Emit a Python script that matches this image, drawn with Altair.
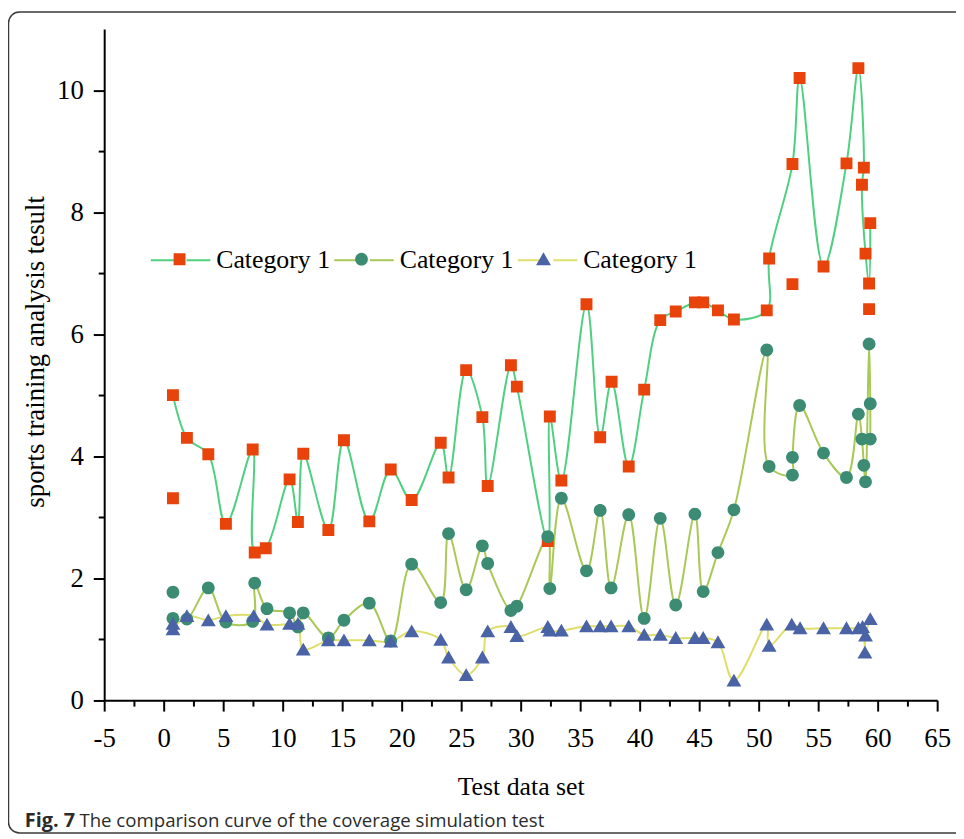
import altair as alt
import pandas as pd

# ---------------- data ----------------
# Series 1 (red squares, light-green spline)
s1_x = [0.78, 0.78, 1.95, 3.75, 5.23, 7.48, 7.65, 8.58, 10.58, 11.28,
        11.73, 13.84, 15.15, 17.28, 19.08, 20.84, 23.28, 23.94, 25.42, 26.78,
        27.23, 29.18, 29.68, 32.28, 32.45, 33.42, 35.53, 36.68, 37.64, 39.08,
        40.38, 41.73, 43.03, 44.64, 45.34, 46.58, 47.92, 50.68, 50.88, 52.84,
        52.84, 53.44, 55.45, 57.38, 58.38, 58.84, 58.68, 58.98, 59.28, 59.38,
        59.28]
s1_y = [5.00, 3.31, 4.30, 4.03, 2.89, 4.11, 2.42, 2.49, 3.62, 2.92,
        4.04, 2.79, 4.26, 2.93, 3.78, 3.28, 4.22, 3.65, 5.41, 4.64,
        3.51, 5.49, 5.14, 2.61, 4.65, 3.60, 6.49, 4.31, 5.22, 3.83,
        5.09, 6.23, 6.37, 6.52, 6.52, 6.39, 6.24, 6.39, 7.24, 6.82,
        8.79, 10.20, 7.11, 8.80, 10.36, 8.73, 8.45, 7.32, 6.83, 7.82,
        6.41]
s1_off = [1, 39, 50]   # points not joined by the spline

# Series 2 (green circles, yellow-green spline)
s2_x = [0.78, 0.78, 1.95, 3.75, 5.23, 7.48, 7.65, 8.68, 10.58, 11.28,
        11.73, 13.84, 15.15, 17.28, 19.08, 20.84, 23.28, 23.94, 25.42, 26.78,
        27.23, 29.18, 29.68, 32.28, 32.45, 33.42, 35.53, 36.68, 37.60, 39.08,
        40.38, 41.73, 43.03, 44.64, 45.34, 46.58, 47.92, 50.68, 50.88, 52.84,
        52.84, 53.44, 55.45, 57.38, 58.38, 58.68, 58.84, 58.98, 59.28, 59.38,
        59.38]
s2_y = [1.77, 1.34, 1.33, 1.84, 1.28, 1.29, 1.92, 1.50, 1.43, 1.20,
        1.43, 1.02, 1.31, 1.59, 0.97, 2.23, 1.60, 2.73, 1.81, 2.53,
        2.24, 1.47, 1.54, 2.68, 1.83, 3.31, 2.12, 3.11, 1.84, 3.04,
        1.34, 2.98, 1.56, 3.05, 1.78, 2.42, 3.12, 5.74, 3.83, 3.69,
        3.98, 4.83, 4.05, 3.65, 4.69, 4.28, 3.85, 3.58, 5.84, 4.86,
        4.28]
s2_off = [0]

# Series 3 (blue triangles, yellow spline)
s3_x = [0.78, 0.78, 1.95, 3.75, 5.23, 7.56, 8.68, 10.58, 11.28, 11.73,
        13.84, 15.15, 17.28, 19.08, 20.84, 23.28, 23.94, 25.42, 26.78, 27.23,
        29.18, 29.68, 32.28, 32.45, 33.42, 35.53, 36.68, 37.60, 39.08, 40.38,
        41.73, 43.03, 44.64, 45.34, 46.58, 47.92, 50.68, 50.88, 52.78, 53.48,
        55.45, 57.38, 58.38, 58.73, 58.93, 58.98, 59.38]
s3_y = [1.25, 1.16, 1.38, 1.31, 1.38, 1.38, 1.24, 1.25, 1.25, 0.83,
        0.98, 0.98, 0.98, 0.96, 1.13, 0.99, 0.70, 0.41, 0.70, 1.13,
        1.20, 1.05, 1.20, 1.14, 1.14, 1.21, 1.21, 1.21, 1.21, 1.07,
        1.07, 1.02, 1.02, 1.02, 0.95, 0.32, 1.24, 0.89, 1.24, 1.18,
        1.18, 1.18, 1.18, 1.20, 0.78, 1.06, 1.33]
s3_off = [0]

series_names = ["S1", "S2", "S3"]
line_names = ["L1", "L2", "L3"]
legend_label = "Category 1"

x_ticks = [-5, -2.5, 0, 2.5, 5, 7.5, 10, 12.5, 15, 17.5, 20, 22.5, 25, 27.5,
           30, 32.5, 35, 37.5, 40, 42.5, 45, 47.5, 50, 52.5, 55, 57.5, 60,
           62.5, 65]
y_ticks = [0, 1, 2, 3, 4, 5, 6, 7, 8, 9, 10]

caption_bold = "Fig. 7"
caption_rest = "The comparison curve of the coverage simulation test"

# ---------------- tables ----------------
pt_rows, ln_rows = [], []
for s, l, xs, ys, off in [("S1", "L1", s1_x, s1_y, s1_off),
                          ("S2", "L2", s2_x, s2_y, s2_off),
                          ("S3", "L3", s3_x, s3_y, s3_off)]:
    for i, (xv, yv) in enumerate(zip(xs, ys)):
        pt_rows.append({"x": xv, "y": yv, "series": s})
        if i not in off:
            ln_rows.append({"x": xv, "y": yv, "line": l, "idx": i})
pts = pd.DataFrame(pt_rows)
lns = pd.DataFrame(ln_rows)

# ---------------- styles ----------------
SERIF = "Liberation Serif"
marker_colors = ["#E8430B", "#3B8C73", "#4A63A6"]
line_colors = ["#4FD080", "#A8C955", "#DEDE6A"]

corner = "M-1,-1L-1,-1M1,1L1,1"
sq = "M-0.2,-0.2H0.2V0.2H-0.2Z" + corner
ci = "M0.215,0A0.215,0.215,0,1,1,-0.215,0A0.215,0.215,0,1,1,0.215,0Z" + corner
tri = "M0,-0.23L0.25,0.2L-0.25,0.2Z" + corner
leg_line = "M-1,0H-0.2M0.2,0H1" + corner

W, H = 840, 676.7

x_scale = alt.Scale(domain=[-5, 65], nice=False, zero=False)
y_scale = alt.Scale(domain=[0, 11], nice=False, zero=False)

x_axis = alt.Axis(
    values=x_ticks,
    labelExpr="datum.value % 5 === 0 ? '' + datum.value : ''",
    tickSize={"condition": {"test": "datum.value % 5 === 0", "value": 11}, "value": 6},
    tickWidth=2, tickColor="black", domainColor="black", domainWidth=2,
    labelFont=SERIF, labelFontSize=27, labelColor="black", labelPadding=15,
    labelOverlap=False, labelFlush=False, grid=False,
    title="Test data set", titleFont=SERIF, titleFontSize=26,
    titleFontWeight="normal", titleColor="black", titlePadding=22,
)
y_axis = alt.Axis(
    values=y_ticks,
    labelExpr="datum.value % 2 === 0 ? '' + datum.value : ''",
    tickSize={"condition": {"test": "datum.value % 2 === 0", "value": 11}, "value": 6},
    tickWidth=2, tickColor="black", domainColor="black", domainWidth=2,
    labelFont=SERIF, labelFontSize=27, labelColor="black", labelPadding=10,
    labelOverlap=False, labelFlush=False, grid=False,
    title="sports training analysis tesult", titleFont=SERIF, titleFontSize=27,
    titleFontWeight="normal", titleColor="black", titlePadding=7, titleY=325,
)

leg_common = dict(
    orient="none", legendX=46, legendY=202, direction="horizontal", columns=3,
    title=None, labelFont=SERIF, labelFontSize=26, labelColor="black",
    labelOffset=5, symbolSize=3600, padding=0, labelLimit=300,
)

frame = alt.Chart(pd.DataFrame({"a": [0]})).mark_rect(
    fillOpacity=0, stroke="#3a3a3a", strokeWidth=1.5, cornerRadius=11
).encode(
    x=alt.value(-96.5), x2=alt.value(900), y=alt.value(-17.3), y2=alt.value(810.7)
)

lines = alt.Chart(lns).mark_line(interpolate="catmull-rom", strokeWidth=2).encode(
    x=alt.X("x:Q", scale=x_scale, axis=x_axis),
    y=alt.Y("y:Q", scale=y_scale, axis=y_axis),
    stroke=alt.Stroke("line:N",
                      scale=alt.Scale(domain=line_names, range=line_colors),
                      legend=alt.Legend(symbolType=leg_line, symbolStrokeWidth=2,
                                        labelExpr="'" + legend_label + "'",
                                        columnPadding=0, **leg_common)),
    order=alt.Order("idx:Q"),
)

point_legend = alt.Legend(symbolStrokeWidth=0, labelExpr="''",
                          columnPadding=118.5, **leg_common)
points = alt.Chart(pts).mark_point(filled=True, size=3600, opacity=1, strokeWidth=0).encode(
    x=alt.X("x:Q", scale=x_scale, axis=x_axis),
    y=alt.Y("y:Q", scale=y_scale, axis=y_axis),
    fill=alt.Fill("series:N",
                  scale=alt.Scale(domain=series_names, range=marker_colors),
                  legend=point_legend),
    shape=alt.Shape("series:N",
                    scale=alt.Scale(domain=series_names, range=[sq, ci, tri]),
                    legend=point_legend),
)

cap1 = alt.Chart(pd.DataFrame({"t": [caption_bold]})).mark_text(
    align="left", baseline="alphabetic", font="Open Sans", fontWeight="bold",
    fontSize=20, color="#2b2b2b"
).encode(x=alt.value(-80), y=alt.value(805), text="t:N")

cap2 = alt.Chart(pd.DataFrame({"t": [caption_rest]})).mark_text(
    align="left", baseline="alphabetic", font="Open Sans", fontWeight="normal",
    fontSize=18.8, color="#2b2b2b"
).encode(x=alt.value(-25), y=alt.value(805), text="t:N")

chart = alt.layer(frame, lines, points, cap1, cap2).properties(
    width=W, height=H,
    autosize=alt.AutoSizeParams(type="none"),
    padding={"left": 97, "top": 17.8, "right": 19, "bottom": 136},
    background="white",
).configure_view(stroke=None).configure_axis(
    titleFont=SERIF, labelFont=SERIF, titleFontWeight="normal"
)

chart.save("out.html", embed_options={"renderer": "svg", "actions": False})
